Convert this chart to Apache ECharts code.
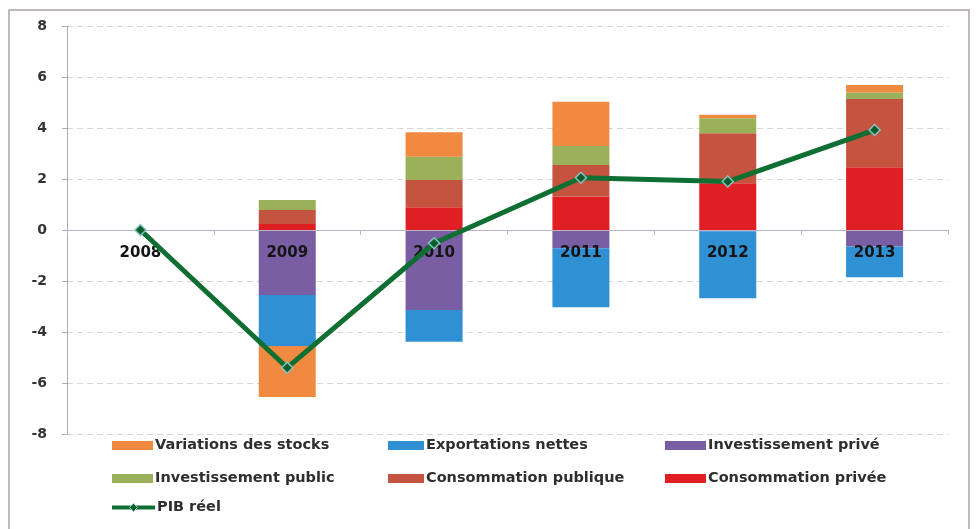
<!DOCTYPE html>
<html>
<head>
<meta charset="utf-8">
<style>
  html, body { margin: 0; padding: 0; background: #ffffff; }
  #chart { width: 976px; height: 529px; }
</style>
<script src="https://cdn.jsdelivr.net/npm/echarts@6/dist/echarts.min.js"></script>
</head>
<body>
<div id="chart"></div>
<script>
// Years on the category axis
const years = ['2008', '2009', '2010', '2011', '2012', '2013'];

// Contributions to real GDP growth (percentage points)
const consoPrivee   = [0, 0.24, 0.89, 1.31, 1.83, 2.46];
const consoPublique = [0, 0.54, 1.07, 1.24, 1.96, 2.68];
const investPrive   = [0, -2.55, -3.14, -0.72, -0.05, -0.65];
const investPublic  = [0, 0.40, 0.91, 0.74, 0.59, 0.25];
const exportNettes  = [0, -2.00, -1.24, -2.31, -2.63, -1.20];
const varStocks     = [0, -2.00, 0.96, 1.74, 0.14, 0.30];

// Real GDP growth (%)
const pibReel = [0, -5.4, -0.52, 2.05, 1.9, 3.92];

// Value axis ticks
const yTicks = { min: -8, max: 8, step: 2 };

const colors = {
  stocks: '#f08a40',
  exports: '#2f91d3',
  invPrive: '#7a5ea4',
  invPublic: '#9bb05a',
  consoPub: '#c4533f',
  consoPriv: '#e01f25',
  pib: '#0f6e31'
};

const FONT = 'DejaVu Sans';

function barSeries(name, data, color) {
  return {
    name: name,
    type: 'bar',
    stack: 'contrib',
    data: data,
    barWidth: 57,
    itemStyle: { color: color },
    emphasis: { disabled: true },
    z: 2
  };
}

function legendAt(name, left, top, width, extra) {
  return Object.assign({
    data: [{ name: name, icon: 'rect' }],
    left: left,
    top: top,
    padding: 0,
    itemWidth: width,
    itemHeight: 9,
    itemGap: 0,
    selectedMode: false,
    textStyle: { fontFamily: FONT, fontWeight: 'bold', fontSize: 14.5, color: '#2e2e2e', padding: [0, 0, 0, -3] }
  }, extra || {});
}

const chart = echarts.init(document.getElementById('chart'), null, { renderer: 'canvas' });

// plot area: the zero line sits half-way down, so the category axis is lifted by half the plot height
const gridTop = 26, gridBottom = 95, chartHeight = 529;
const plotHeight = chartHeight - gridTop - gridBottom;

chart.setOption({
  animation: false,
  backgroundColor: '#ffffff',
  graphic: [{
    type: 'rect',
    shape: { x: 9, y: 10, width: 960, height: 530 },
    style: { fill: 'none', stroke: '#aaa2a2', lineWidth: 1.5 },
    silent: true,
    z: -1
  }],
  grid: { left: 67, right: 28, top: gridTop, bottom: gridBottom },
  legend: [
    legendAt('Variations des stocks', 112, 438, 41),
    legendAt('Exportations nettes', 388, 438, 36),
    legendAt('Investissement privé', 665, 438, 41),
    legendAt('Investissement public', 112, 471, 41),
    legendAt('Consommation publique', 388, 471, 36),
    legendAt('Consommation privée', 665, 471, 41),
    legendAt('PIB réel', 110, 500, 43, {
      data: [{ name: 'PIB réel' }],
      itemHeight: 10,
      lineStyle: { width: 4, color: colors.pib },
      itemStyle: { color: '#0b5e2a', borderColor: '#86c4c4', borderWidth: 1 }
    })
  ],
  xAxis: {
    type: 'category',
    data: years,
    position: 'bottom',
    offset: -plotHeight / 2,
    z: 3,
    axisLine: { onZero: false, lineStyle: { color: '#b9b2c8', width: 1.2 } },
    axisTick: { show: true, length: 5, lineStyle: { color: '#b9b2c8' } },
    axisLabel: { fontFamily: FONT, fontWeight: 'bold', fontSize: 15, color: '#141414', margin: 16 },
    splitLine: { show: false }
  },
  yAxis: {
    type: 'value',
    min: yTicks.min,
    max: yTicks.max,
    interval: yTicks.step,
    axisLine: { show: true, lineStyle: { color: '#b2a9b0', width: 1 } },
    axisTick: { show: true, length: 5, lineStyle: { color: '#b2a9b0' } },
    axisLabel: { fontFamily: FONT, fontWeight: 'bold', fontSize: 14, color: '#333333', margin: 20 },
    splitLine: { show: true, lineStyle: { color: '#dcd2d2', type: [6, 4], width: 1 } }
  },
  series: [
    barSeries('Consommation privée', consoPrivee, colors.consoPriv),
    barSeries('Consommation publique', consoPublique, colors.consoPub),
    barSeries('Investissement privé', investPrive, colors.invPrive),
    barSeries('Investissement public', investPublic, colors.invPublic),
    barSeries('Exportations nettes', exportNettes, colors.exports),
    barSeries('Variations des stocks', varStocks, colors.stocks),
    {
      name: 'PIB réel',
      type: 'line',
      data: pibReel,
      z: 5,
      symbol: 'diamond',
      symbolSize: 11,
      lineStyle: { color: colors.pib, width: 5 },
      itemStyle: { color: '#0b5e2a', borderColor: '#86c4c4', borderWidth: 1.5 },
      emphasis: { disabled: true }
    }
  ]
});
</script>
</body>
</html>
